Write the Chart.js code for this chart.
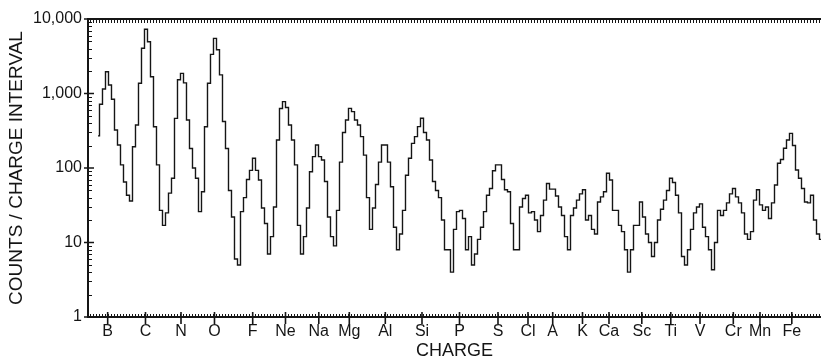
<!DOCTYPE html>
<html><head><meta charset="utf-8">
<script src="https://cdn.jsdelivr.net/npm/chart.js@4.4.1/dist/chart.umd.min.js"></script>
<style>html,body{margin:0;padding:0;background:#fff;overflow:hidden}canvas{display:block}</style>
</head><body>
<canvas id="c" width="821" height="362"></canvas>
<script>
// Counts per charge-interval channel (one value per channel)
const counts = [
 270,716,1150,1960,1300,836,324,204,110,65,43,36,
 193,378,1371,4045,7270,4955,1682,358,110,27,17,
 25,46,73,464,1530,1860,1390,440,183,100,73,26,
 48,358,1370,3350,5500,3860,1780,420,183,50,22,6,5,
 26,40,70,93,135,93,69,29,18,7,12,
 30,238,630,777,650,378,238,110,17,7,12,
 29,89,142,204,142,128,66,22,12,9,
 27,120,300,441,632,571,441,378,264,149,40,15,
 29,60,120,204,204,120,56,16,8,13,
 27,80,135,214,264,359,465,300,238,128,66,50,40,20,8,8,4,
 15,26,27,21,8,12,5,7,11,16,26,43,53,92,110,110,70,51,48,18,8,8,
 30,39,43,25,26,20,14,23,37,62,52,52,42,30,23,12,8,
 23,29,37,45,51,20,23,15,13,35,41,48,85,69,27,27,17,14,8,4,
 8,17,17,35,22,13,10,6.5,10,20,28,37,50,73,64,43,25,6.5,5,8,
 15,25,30,33,16,12,8,4.3,10,27,23,27,34,45,53,41,34,25,13,11,
 14,37,51,32,27,30,21,34,59,116,130,184,238,292,200,94,73,53,35,34,43,20,13,11
];
const elementLabels = ['B','C','N','O','F','Ne','Na','Mg','Al','Si','P','S','Cl','A','K','Ca','Sc','Ti','V','Cr','Mn','Fe'];
const elementChannels = [3.73,16.33,28.17,39.33,52.07,63.0,74.1,84.27,96.27,108.5,121.0,133.83,143.83,152.07,162.0,170.83,181.77,191.43,201.17,212.27,221.17,231.77];
const countTicks = [1,10,100,1000,10000];
const countTickLabels = ['1','10','100','1,000','10,000'];
const channelMin = -2.83;
const channelMax = 241.5;

const ink = '#151515';
Chart.defaults.font.family = '"Liberation Sans", Arial, sans-serif';
Chart.defaults.color = ink;

const frameTicks = {
  id: 'frameTicks',
  afterDraw(chart) {
    const {ctx, chartArea: a, scales: {x, y}} = chart;
    ctx.save();
    ctx.strokeStyle = ink;
    ctx.lineWidth = 1;
    ctx.beginPath();
    for (let u = Math.ceil(x.min); u <= x.max; u++) {
      const px = Math.round(x.getPixelForValue(u)) + 0.5;
      ctx.moveTo(px, a.bottom); ctx.lineTo(px, a.bottom - 3);
      ctx.moveTo(px, a.top); ctx.lineTo(px, a.top + 4);
    }
    for (let d = 0; d < 4; d++) {
      for (let m = 2; m < 10; m++) {
        const py = Math.round(y.getPixelForValue(m * Math.pow(10, d))) + 0.5;
        ctx.moveTo(a.left, py); ctx.lineTo(a.left + 4, py);
      }
    }
    ctx.stroke();
    ctx.lineWidth = 1.6;
    ctx.beginPath();
    elementChannels.forEach(v => {
      const px = x.getPixelForValue(v);
      ctx.moveTo(px, a.bottom - 5); ctx.lineTo(px, a.bottom + 7);
    });
    countTicks.forEach(v => {
      const py = y.getPixelForValue(v);
      ctx.moveTo(a.left - 4, py); ctx.lineTo(a.left + 6, py);
    });
    ctx.stroke();
    ctx.lineWidth = 2;
    ctx.beginPath();
    ctx.moveTo(a.left - 1, a.top); ctx.lineTo(a.right, a.top);
    ctx.stroke();
    ctx.restore();
  }
};

new Chart(document.getElementById('c'), {
  type: 'line',
  data: {
    datasets: [{
      data: counts.map((v, i) => ({x: i + 0.5, y: v})),
      stepped: 'middle',
      borderColor: ink,
      borderWidth: 1.4,
      pointRadius: 0,
      fill: false
    }]
  },
  options: {
    responsive: false,
    animation: false,
    devicePixelRatio: 1,
    layout: {padding: {top: 19, left: 0, right: 0, bottom: 0}},
    plugins: {legend: {display: false}, tooltip: {enabled: false}},
    scales: {
      x: {
        type: 'linear',
        min: channelMin,
        max: channelMax,
        afterBuildTicks: s => { s.ticks = elementChannels.map(v => ({value: v})); },
        afterFit: s => { s.height = 45; },
        grid: {display: false, drawTicks: false},
        border: {display: true, color: ink, width: 2},
        ticks: {
          autoSkip: false, maxRotation: 0, minRotation: 0, padding: 5,
          font: {size: 16},
          callback: (v, i) => elementLabels[i]
        },
        title: {display: true, text: 'CHARGE', font: {size: 18}, padding: {top: 0, bottom: 0}}
      },
      y: {
        type: 'logarithmic',
        min: 1,
        max: 10000,
        afterBuildTicks: s => { s.ticks = countTicks.map(v => ({value: v})); },
        afterFit: s => { s.width = 88; },
        grid: {display: false, drawTicks: false},
        border: {display: true, color: ink, width: 2},
        ticks: {
          padding: 6,
          font: {size: 16},
          callback: (v, i) => countTickLabels[i]
        },
        title: {display: true, text: 'COUNTS / CHARGE INTERVAL', font: {size: 19}, padding: {top: 5, bottom: 0}}
      }
    }
  },
  plugins: [frameTicks]
});
</script>
</body></html>
